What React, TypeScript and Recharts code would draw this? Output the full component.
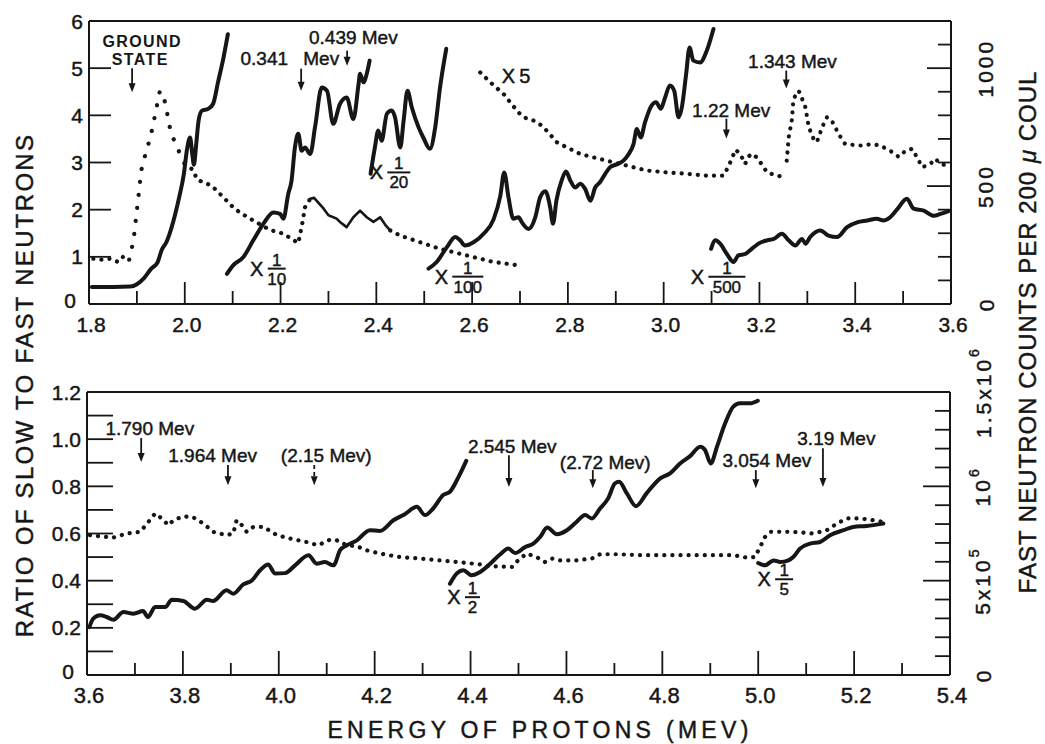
import React from 'react'
import { ComposedChart, Line, XAxis, YAxis, ReferenceLine, ReferenceDot } from 'recharts'

const INK = '#161616'
const FONT = "'Liberation Sans', Arial, Helvetica, sans-serif"
const HEAVY = 0.45 // a thin outline on the lettering, the scan's letters are heavier than Liberation regular

type Pt = [number, number]

// ---------- upper panel: proton energy 1.8 .. 3.6 MeV ----------
const topXTicks = [1.8, 1.9, 2.0, 2.1, 2.2, 2.3, 2.4, 2.5, 2.6, 2.7, 2.8, 2.9, 3.0, 3.1, 3.2, 3.3, 3.4, 3.5, 3.6]
const topYTicks = [0, 1, 2, 3, 4, 5, 6]
const topRightTicks = [0, 100, 200, 300, 400, 500, 600, 700, 800, 900, 1000, 1100, 1200]

const groundSolid: Pt[] = [
  [1.806, 0.36], [1.85, 0.36], [1.886, 0.37], [1.9, 0.42], [1.915, 0.55], [1.93, 0.75], [1.943, 0.88],
  [1.952, 1.15], [1.962, 1.32], [1.976, 1.75], [1.988, 2.25], [1.998, 2.75], [2.005, 3.3], [2.011, 3.53],
  [2.016, 3.15], [2.019, 2.95], [2.024, 3.4], [2.029, 3.9], [2.036, 4.1], [2.049, 4.14], [2.059, 4.24],
  [2.07, 4.73], [2.081, 5.23], [2.09, 5.72],
]
const groundDotsLow: Pt[] = [[1.809, 0.96], [1.826, 0.94], [1.844, 0.96], [1.861, 0.89], [1.872, 1.01], [1.884, 0.94]]
const groundDotsPeak: Pt[] = [
  [1.884, 0.94], [1.893, 1.35], [1.896, 1.63], [1.903, 2.26], [1.909, 2.83], [1.919, 3.22], [1.929, 3.57],
  [1.938, 4.01], [1.948, 4.52], [1.959, 4.28], [1.968, 3.78], [1.973, 3.57], [1.98, 3.43], [1.99, 3.18], [2.0, 2.97],
]
const groundDotsTail: Pt[] = [
  [2.0, 2.97], [2.015, 2.86], [2.027, 2.63], [2.056, 2.51], [2.074, 2.33], [2.101, 2.05], [2.115, 1.94],
  [2.143, 1.77], [2.178, 1.57], [2.206, 1.49], [2.237, 1.29], [2.244, 1.63], [2.251, 2.05], [2.262, 2.23],
]
const groundThin: Pt[] = [
  [2.262, 2.23], [2.27, 2.25], [2.29, 2.02], [2.3, 1.88], [2.317, 1.81], [2.324, 1.74], [2.338, 1.63],
  [2.352, 1.84], [2.366, 1.98], [2.38, 1.84], [2.394, 1.74], [2.408, 1.84], [2.42, 1.66], [2.429, 1.56],
]
const groundDotsEnd: Pt[] = [[2.429, 1.56], [2.45, 1.45], [2.491, 1.31], [2.533, 1.17], [2.589, 1.03], [2.645, 0.89], [2.697, 0.82]]

const tenth: Pt[] = [
  [2.088, 0.64], [2.101, 0.82], [2.122, 0.99], [2.143, 1.35], [2.164, 1.7], [2.185, 1.94], [2.199, 1.91],
  [2.206, 1.81], [2.216, 2.33], [2.223, 2.62], [2.23, 3.32], [2.237, 3.61], [2.244, 3.25], [2.251, 3.32],
  [2.262, 3.18], [2.272, 3.75], [2.286, 4.59], [2.297, 4.52], [2.31, 3.82], [2.324, 4.24], [2.338, 4.38],
  [2.352, 3.92], [2.363, 4.67], [2.366, 4.88], [2.373, 4.7], [2.38, 4.88], [2.386, 5.16],
]
const twentieth: Pt[] = [
  [2.388, 2.76], [2.397, 3.32], [2.404, 3.68], [2.411, 3.46], [2.422, 4.03], [2.432, 4.1], [2.439, 3.96],
  [2.45, 3.32], [2.457, 3.89], [2.465, 4.52], [2.474, 4.17], [2.488, 3.75], [2.498, 3.53], [2.512, 3.29],
  [2.523, 3.75], [2.533, 4.59], [2.546, 5.41],
]
const hundredth: Pt[] = [
  [2.509, 0.75], [2.526, 0.89], [2.547, 1.2], [2.565, 1.42], [2.575, 1.35], [2.585, 1.24], [2.603, 1.31],
  [2.624, 1.49], [2.645, 1.8], [2.659, 2.3], [2.667, 2.79], [2.676, 2.26], [2.686, 1.81], [2.697, 1.84],
  [2.704, 1.73], [2.718, 1.59], [2.732, 1.84], [2.742, 2.26], [2.753, 2.39], [2.763, 2.05], [2.769, 1.7],
  [2.776, 2.19], [2.787, 2.62], [2.796, 2.81], [2.805, 2.62], [2.815, 2.47], [2.826, 2.55], [2.836, 2.44],
  [2.847, 2.19], [2.857, 2.47], [2.867, 2.58], [2.878, 2.76], [2.888, 2.9], [2.902, 2.96], [2.916, 3.04],
  [2.927, 3.18], [2.937, 3.39], [2.944, 3.71], [2.952, 3.53], [2.961, 3.85], [2.975, 4.21], [2.984, 4.28],
  [2.994, 4.14], [3.003, 4.38], [3.013, 4.63], [3.022, 4.52], [3.031, 3.96], [3.038, 4.17], [3.047, 4.88],
  [3.054, 5.44], [3.062, 5.16], [3.076, 5.12], [3.09, 5.37], [3.104, 5.83],
]
const timesFive: Pt[] = [
  [2.617, 4.91], [2.638, 4.7], [2.669, 4.42], [2.679, 4.28], [2.697, 4.06], [2.707, 3.96], [2.728, 3.89],
  [2.746, 3.78], [2.759, 3.64], [2.777, 3.43], [2.798, 3.32], [2.826, 3.18], [2.853, 3.11], [2.881, 3.04],
  [2.909, 2.97], [2.937, 2.9], [2.965, 2.83], [3.007, 2.79], [3.049, 2.76], [3.09, 2.72], [3.125, 2.72],
  [3.136, 2.93], [3.15, 3.27], [3.16, 3.18], [3.17, 2.97], [3.181, 3.18], [3.195, 3.11], [3.216, 2.79],
  [3.237, 2.72], [3.254, 2.69],
]
const level1343: Pt[] = [
  [3.257, 3.04], [3.261, 3.53], [3.268, 3.92], [3.271, 4.35], [3.282, 4.52], [3.289, 4.35], [3.296, 4.17],
  [3.303, 3.75], [3.313, 3.5], [3.32, 3.43], [3.331, 3.75], [3.341, 3.96], [3.351, 3.89], [3.365, 3.61],
  [3.379, 3.39], [3.411, 3.36], [3.435, 3.39], [3.452, 3.36], [3.473, 3.25], [3.491, 3.12], [3.505, 3.25],
  [3.519, 3.29], [3.529, 3.11], [3.54, 2.9], [3.557, 2.97], [3.567, 3.08], [3.578, 2.97], [3.595, 2.93],
]
const fiveHundredth: Pt[] = [
  [3.099, 1.17], [3.108, 1.35], [3.118, 1.28], [3.132, 1.06], [3.146, 0.89], [3.156, 1.03], [3.17, 1.06],
  [3.184, 1.17], [3.198, 1.28], [3.216, 1.35], [3.23, 1.38], [3.247, 1.49], [3.261, 1.35], [3.275, 1.24],
  [3.289, 1.38], [3.296, 1.28], [3.306, 1.42], [3.327, 1.56], [3.344, 1.45], [3.362, 1.42], [3.383, 1.63],
  [3.404, 1.73], [3.425, 1.77], [3.445, 1.81], [3.459, 1.77], [3.473, 1.84], [3.487, 2.0], [3.508, 2.23],
  [3.522, 2.02], [3.543, 1.98], [3.564, 1.87], [3.578, 1.91], [3.595, 1.97],
]

// ---------- lower panel: proton energy 3.6 .. 5.4 MeV ----------
const lowXTicks = [3.6, 3.7, 3.8, 3.9, 4.0, 4.1, 4.2, 4.3, 4.4, 4.5, 4.6, 4.7, 4.8, 4.9, 5.0, 5.1, 5.2, 5.3, 5.4]
const lowYTicks = [0, 0.1, 0.2, 0.3, 0.4, 0.5, 0.6, 0.7, 0.8, 0.9, 1.0, 1.1, 1.2]
const lowRightTicks = [0, 1e5, 2e5, 3e5, 4e5, 5e5, 6e5, 7e5, 8e5, 9e5, 1e6, 1.1e6, 1.2e6, 1.3e6, 1.4e6, 1.5e6]

const ratioDots: Pt[] = [
  [3.606, 0.593], [3.627, 0.588], [3.655, 0.583], [3.683, 0.6], [3.711, 0.607], [3.728, 0.649], [3.742, 0.685],
  [3.756, 0.664], [3.77, 0.635], [3.78, 0.656], [3.801, 0.673], [3.822, 0.668], [3.843, 0.642], [3.863, 0.607],
  [3.891, 0.593], [3.905, 0.6], [3.912, 0.656], [3.923, 0.635], [3.933, 0.607], [3.947, 0.628], [3.968, 0.628],
  [3.996, 0.593], [4.023, 0.579], [4.058, 0.564], [4.082, 0.55], [4.107, 0.574], [4.121, 0.571], [4.142, 0.55],
  [4.163, 0.546], [4.183, 0.529], [4.211, 0.515], [4.253, 0.5], [4.295, 0.494], [4.336, 0.486], [4.392, 0.475],
  [4.42, 0.469], [4.434, 0.462], [4.487, 0.458], [4.499, 0.486], [4.517, 0.515], [4.538, 0.5], [4.555, 0.479],
  [4.569, 0.494], [4.587, 0.486], [4.621, 0.486], [4.653, 0.494], [4.67, 0.512], [4.705, 0.512], [4.76, 0.508],
  [4.83, 0.508], [4.9, 0.508], [4.948, 0.508], [4.976, 0.498], [4.993, 0.5], [5.004, 0.543], [5.014, 0.585],
  [5.025, 0.607], [5.073, 0.607], [5.115, 0.6], [5.143, 0.614], [5.164, 0.642], [5.185, 0.664], [5.213, 0.664],
  [5.24, 0.656], [5.261, 0.649],
]
const countsLow: Pt[] = [
  [3.605, 0.203], [3.613, 0.239], [3.627, 0.253], [3.641, 0.246], [3.655, 0.234], [3.676, 0.267], [3.697, 0.26],
  [3.717, 0.271], [3.727, 0.246], [3.742, 0.288], [3.763, 0.288], [3.777, 0.319], [3.801, 0.314], [3.825, 0.281],
  [3.85, 0.319], [3.863, 0.314], [3.891, 0.359], [3.905, 0.345], [3.926, 0.384], [3.944, 0.401], [3.961, 0.444],
  [3.978, 0.469], [3.992, 0.43], [4.013, 0.432], [4.034, 0.465], [4.062, 0.508], [4.079, 0.472], [4.096, 0.479],
  [4.114, 0.465], [4.128, 0.529], [4.142, 0.55], [4.163, 0.571], [4.19, 0.614], [4.211, 0.611], [4.239, 0.656],
  [4.263, 0.682], [4.288, 0.713], [4.305, 0.678], [4.322, 0.706], [4.343, 0.763], [4.357, 0.777], [4.375, 0.84],
  [4.391, 0.908],
]
const countsHalf: Pt[] = [
  [4.357, 0.387], [4.371, 0.43], [4.385, 0.444], [4.402, 0.423], [4.42, 0.437], [4.441, 0.472], [4.462, 0.512],
  [4.479, 0.536], [4.493, 0.517], [4.514, 0.543], [4.531, 0.557], [4.545, 0.585], [4.56, 0.625], [4.58, 0.597],
  [4.601, 0.614], [4.621, 0.649], [4.639, 0.678], [4.653, 0.664], [4.67, 0.706], [4.687, 0.749], [4.701, 0.812],
  [4.71, 0.819], [4.726, 0.77], [4.745, 0.716], [4.767, 0.77], [4.795, 0.833], [4.816, 0.855], [4.837, 0.897],
  [4.858, 0.928], [4.879, 0.968], [4.889, 0.954], [4.901, 0.897], [4.914, 0.968], [4.931, 1.067], [4.948, 1.138],
  [4.962, 1.152], [4.983, 1.152], [4.999, 1.163],
]
const countsFifth: Pt[] = [
  [5.0, 0.475], [5.014, 0.465], [5.032, 0.486], [5.046, 0.479], [5.063, 0.486], [5.073, 0.5], [5.087, 0.536],
  [5.108, 0.557], [5.129, 0.564], [5.15, 0.593], [5.178, 0.614], [5.198, 0.628], [5.226, 0.632], [5.261, 0.642],
]

// level markers: [label, x, y] and arrows [x, top, tip]
const topLevels: [string, number, number][] = [
  ['0.439 Mev', 2.352, 5.64], ['0.341', 2.166, 5.21], ['Mev', 2.285, 5.21],
  ['1.22 Mev', 3.141, 4.11], ['1.343 Mev', 3.269, 5.15],
]
const topArrows: [number, number, number][] = [
  [1.89, 5.0, 4.49], [2.243, 4.99, 4.52], [2.339, 5.37, 5.05], [3.131, 3.93, 3.51], [3.256, 4.95, 4.57],
]
const lowLevels: [string, number, number][] = [
  ['1.790 Mev', 3.731, 1.045], ['1.964 Mev', 3.862, 0.932], ['(2.15 Mev)', 4.099, 0.93],
  ['2.545 Mev', 4.487, 0.969], ['(2.72 Mev)', 4.681, 0.901], ['3.054 Mev', 5.018, 0.909], ['3.19 Mev', 5.163, 1.003],
]
const lowArrows: [number, number, number, boolean][] = [
  [3.713, 1.005, 0.903, false], [3.894, 0.89, 0.805, false], [4.074, 0.89, 0.805, true],
  [4.48, 0.932, 0.797, false], [4.655, 0.869, 0.792, false], [4.995, 0.869, 0.792, false], [5.135, 0.962, 0.797, false],
]
// scale factors written on the curves: [denominator, x, y, bar width]
const topFactors: [string, number, number, number][] = [
  ['10', 2.192, 0.75, 18], ['20', 2.447, 2.79, 23], ['100', 2.591, 0.58, 31], ['500', 3.132, 0.58, 37],
]
const lowFactors: [string, number, number, number][] = [['2', 4.404, 0.33, 15], ['5', 5.054, 0.406, 18]]

const rows = (pts: Pt[]) => pts.map(([e, r]) => ({ e, r }))

type Kind = 'solid' | 'dots' | 'sparse' | 'thin'
function trace(id: string, pts: Pt[], kind: Kind) {
  return (
    <Line
      key={id}
      yAxisId="l"
      data={rows(pts)}
      dataKey="r"
      type={kind === 'solid' ? 'monotoneX' : 'linear'}
      stroke={INK}
      strokeWidth={kind === 'solid' ? 4 : kind === 'thin' ? 2.6 : 4.2}
      strokeDasharray={kind === 'dots' ? '0.1 8' : kind === 'sparse' ? '0.1 13' : undefined}
      strokeLinecap="round"
      strokeLinejoin="round"
      dot={false}
      activeDot={false}
      isAnimationActive={false}
    />
  )
}

const textLabel = (str: string, size: number, bold = false, spacing = 0) => (p: any) => {
  const vb = p.viewBox || {}
  const cx = (vb.x ?? 0) + (vb.width ?? 0) / 2
  const cy = (vb.y ?? 0) + (vb.height ?? 0) / 2
  return (
    <text x={cx} y={cy} textAnchor="middle" dominantBaseline="central" fontSize={size} fontFamily={FONT}
      fontWeight={bold ? 700 : 400} fill={INK} stroke={INK} strokeWidth={bold ? 0 : HEAVY}
      style={{ letterSpacing: spacing }}>{str}</text>
  )
}

const fractionLabel = (den: string, barW: number) => (p: any) => {
  const vb = p.viewBox || {}
  const cx = (vb.x ?? 0) + (vb.width ?? 0) / 2
  const cy = (vb.y ?? 0) + (vb.height ?? 0) / 2
  return (
    <g fontFamily={FONT} fill={INK} stroke={INK} strokeWidth={HEAVY}>
      <text x={cx - barW / 2 - 11} y={cy} textAnchor="middle" dominantBaseline="central" fontSize={20}>X</text>
      <text x={cx} y={cy - 3} textAnchor="middle" fontSize={17}>1</text>
      <line x1={cx - barW / 2} x2={cx + barW / 2} y1={cy} y2={cy} stroke={INK} strokeWidth={2} />
      <text x={cx} y={cy + 16} textAnchor="middle" fontSize={17}>{den}</text>
    </g>
  )
}

const arrowShape = (dashed: boolean) => (p: any) => {
  const { x1, y1, x2, y2 } = p
  return (
    <g>
      <line x1={x1} y1={y1} x2={x2} y2={y2 - 6} stroke={INK} strokeWidth={1.8} strokeDasharray={dashed ? '4 3' : undefined} />
      <path d={`M${x2 - 3.5},${y2 - 9} L${x2 + 3.5},${y2 - 9} L${x2},${y2} Z`} fill={INK} />
    </g>
  )
}

const note = (id: string, str: string, x: number, y: number, size = 19, bold = false, spacing = 0) => (
  <ReferenceDot key={id} yAxisId="l" x={x} y={y} r={0} fill="none" stroke="none"
    label={textLabel(str, size, bold, spacing)} />
)
const factor = (id: string, den: string, x: number, y: number, w: number) => (
  <ReferenceDot key={id} yAxisId="l" x={x} y={y} r={0} fill="none" stroke="none" label={fractionLabel(den, w)} />
)
const arrow = (id: string, x: number, top: number, tip: number, dashed = false) => (
  <ReferenceLine key={id} yAxisId="l" segment={[{ x, y: top }, { x, y: tip }]} shape={arrowShape(dashed)} />
)

const xTick = (major: number, minor: number, size: number) => (p: any) => {
  const v = Number(p.payload.value)
  const isMajor = Math.round(v * 10) % 2 === 0
  return (
    <g>
      <line x1={p.x} x2={p.x} y1={p.y} y2={p.y - (isMajor ? major : minor)} stroke={INK} strokeWidth={1.8} />
      {isMajor && (
        <text x={p.x + 2} y={p.y + 28} textAnchor="middle" fontSize={size} fontFamily={FONT} fill={INK}
          stroke={INK} strokeWidth={HEAVY}>
          {v.toFixed(1)}
        </text>
      )}
    </g>
  )
}

const leftTick = (lo: number, hi: number, len: number, fmt: (v: number) => string | null) => (p: any) => {
  const v = Number(p.payload.value)
  const s = fmt(v)
  // the zero sits a little left of and above the corner, clear of the first energy label
  const zero = v === 0
  return (
    <g>
      {v > lo && v < hi && <line x1={p.x} x2={p.x + len} y1={p.y} y2={p.y} stroke={INK} strokeWidth={1.8} />}
      {s !== null && (
        <text x={p.x - (zero ? 13 : 6)} y={p.y - (zero ? 4 : 0)} textAnchor="end" dominantBaseline="central"
          fontSize={21} fontFamily={FONT} fill={INK} stroke={INK} strokeWidth={HEAVY}>
          {s}
        </text>
      )}
    </g>
  )
}

const rightTick = (lo: number, hi: number, longAt: number[], shortLen: number, longLen: number, dx: number,
  label: (v: number) => React.ReactNode) => (p: any) => {
  const v = Number(p.payload.value)
  const lab = label(v)
  const cx = p.x + dx
  const cy = p.y
  return (
    <g>
      {v > lo && v < hi && (
        <line x1={p.x} x2={p.x - (longAt.includes(v) ? longLen : shortLen)} y1={p.y} y2={p.y} stroke={INK} strokeWidth={1.8} />
      )}
      {lab !== null && (
        <text x={cx} y={cy} transform={`rotate(-90 ${cx} ${cy})`} textAnchor="middle" dominantBaseline="central"
          fontSize={21} fontFamily={FONT} fill={INK} stroke={INK} strokeWidth={HEAVY} style={{ letterSpacing: 3 }}>
          {lab}
        </text>
      )}
    </g>
  )
}

const topRightLabel = (v: number) => (v === 0 || v === 500 || v === 1000 ? String(v) : null)
const lowRightLabel = (v: number): React.ReactNode => {
  if (v === 0) return '0'
  if (v === 5e5) return <>5x10<tspan dy={-9} fontSize={14}>5</tspan></>
  if (v === 1e6) return <>10<tspan dy={-9} fontSize={14}>6</tspan></>
  if (v === 1.5e6) return <>1.5x10<tspan dy={-9} fontSize={14}>6</tspan></>
  return null
}

const axisLine = { stroke: INK, strokeWidth: 2 }

function TopPanel() {
  return (
    <ComposedChart width={1045} height={340} margin={{ top: 21, right: 34, bottom: 0, left: 29 }}>
      <XAxis type="number" dataKey="e" domain={[1.8, 3.6]} ticks={topXTicks} interval={0} height={36}
        tickSize={0} tickMargin={0} tickLine={false} axisLine={axisLine} tick={xTick(22, 13, 21)} allowDataOverflow />
      <YAxis yAxisId="l" type="number" domain={[0, 6]} ticks={topYTicks} interval={0} width={60}
        tickSize={0} tickMargin={0} tickLine={false} axisLine={axisLine}
        tick={leftTick(0, 6, 22, (v) => String(v))} allowDataOverflow />
      <YAxis yAxisId="r" orientation="right" type="number" domain={[0, 1200]} ticks={topRightTicks} interval={0}
        width={60} tickSize={0} tickMargin={0} tickLine={false} axisLine={axisLine}
        tick={rightTick(0, 1200, [500, 1000], 13, 24, 35, topRightLabel)} allowDataOverflow />
      <ReferenceLine yAxisId="l" y={6} stroke={INK} strokeWidth={2} />

      {trace('groundDotsLow', groundDotsLow, 'dots')}
      {trace('groundDotsPeak', groundDotsPeak, 'sparse')}
      {trace('groundDotsTail', groundDotsTail, 'dots')}
      {trace('groundThin', groundThin, 'thin')}
      {trace('groundDotsEnd', groundDotsEnd, 'dots')}
      {trace('timesFive', timesFive, 'dots')}
      {trace('level1343', level1343, 'dots')}
      {trace('groundSolid', groundSolid, 'solid')}
      {trace('tenth', tenth, 'solid')}
      {trace('twentieth', twentieth, 'solid')}
      {trace('hundredth', hundredth, 'solid')}
      {trace('fiveHundredth', fiveHundredth, 'solid')}

      {note('ground', 'GROUND', 1.911, 5.57, 16, true, 1.4)}
      {note('state', 'STATE', 1.907, 5.19, 16, true, 1.4)}
      {note('x5', 'X5', 2.696, 4.84, 20, false, 4)}
      {topLevels.map(([s, x, y], i) => note(`tl${i}`, s, x, y))}
      {topArrows.map(([x, a, b], i) => arrow(`ta${i}`, x, a, b))}
      {topFactors.map(([d, x, y, w], i) => factor(`tf${i}`, d, x, y, w))}
    </ComposedChart>
  )
}

function LowPanel() {
  return (
    <ComposedChart width={1045} height={404} margin={{ top: 52, right: 35, bottom: 0, left: 27 }}>
      <XAxis type="number" dataKey="e" domain={[3.6, 5.4]} ticks={lowXTicks} interval={0} height={69}
        tickSize={0} tickMargin={0} tickLine={false} axisLine={axisLine} tick={xTick(24, 12, 22)} allowDataOverflow />
      <YAxis yAxisId="l" type="number" domain={[0, 1.2]} ticks={lowYTicks} interval={0} width={60}
        tickSize={0} tickMargin={0} tickLine={false} axisLine={axisLine}
        tick={leftTick(0, 1.2, 26, (v) => (Math.round(v * 10) % 2 === 0 ? (v === 0 ? '0' : v.toFixed(1)) : null))}
        allowDataOverflow />
      <YAxis yAxisId="r" orientation="right" type="number" domain={[0, 1.5e6]} ticks={lowRightTicks} interval={0}
        width={60} tickSize={0} tickMargin={0} tickLine={false} axisLine={axisLine}
        tick={rightTick(0, 1.5e6, [5e5, 1e6], 15, 27, 33, lowRightLabel)} allowDataOverflow />
      <ReferenceLine yAxisId="l" y={1.2} stroke={INK} strokeWidth={2} />

      {trace('ratioDots', ratioDots, 'dots')}
      {trace('countsLow', countsLow, 'solid')}
      {trace('countsHalf', countsHalf, 'solid')}
      {trace('countsFifth', countsFifth, 'solid')}

      {lowLevels.map(([s, x, y], i) => note(`ll${i}`, s, x, y))}
      {lowArrows.map(([x, a, b, d], i) => arrow(`la${i}`, x, a, b, d))}
      {lowFactors.map(([d, x, y, w], i) => factor(`lf${i}`, d, x, y, w))}
    </ComposedChart>
  )
}

const titleStyle: React.CSSProperties = {
  position: 'absolute',
  fontFamily: FONT,
  color: INK,
  whiteSpace: 'nowrap',
  lineHeight: 1,
  WebkitTextStroke: `${HEAVY}px ${INK}`,
}

export default function App() {
  return (
    <div style={{ position: 'absolute', left: 0, top: 0, width: 1045, height: 744, background: '#fff', overflow: 'hidden' }}>
      <div style={{ position: 'absolute', left: 0, top: 0 }}>
        <TopPanel />
      </div>
      <div style={{ position: 'absolute', left: 0, top: 340 }}>
        <LowPanel />
      </div>
      <div style={{ ...titleStyle, left: 25, top: 385, fontSize: 24, letterSpacing: 2.3, transform: 'translate(-50%, -50%) rotate(-90deg)' }}>
        RATIO OF SLOW TO FAST NEUTRONS
      </div>
      <div style={{ ...titleStyle, left: 1028, top: 332, fontSize: 24, letterSpacing: 1, transform: 'translate(-50%, -50%) rotate(-90deg)' }}>
        FAST NEUTRON COUNTS PER 200 <i>μ</i> COUL
      </div>
      <div style={{ ...titleStyle, left: 540, top: 730, fontSize: 23, letterSpacing: 4.3, transform: 'translate(-50%, -50%)' }}>
        ENERGY OF PROTONS (MEV)
      </div>
    </div>
  )
}
